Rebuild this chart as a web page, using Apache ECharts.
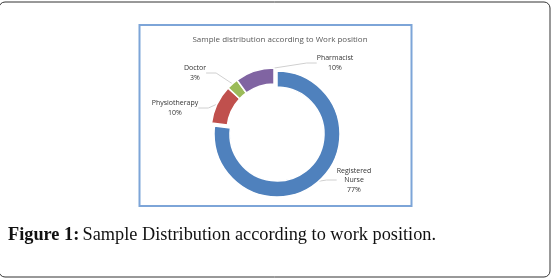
<!DOCTYPE html>
<html>
<head>
<meta charset="utf-8">
<script src="https://cdn.jsdelivr.net/npm/echarts@6/dist/echarts.min.js"></script>
<style>
html, body { margin: 0; padding: 0; background: #fff; }
#main { width: 552px; height: 279px; }
</style>
</head>
<body>
<div id="main"></div>
<script>
var categories = ['Registered\nNurse', 'Physiotherapy', 'Doctor', 'Pharmacist'];
var values = [77, 10, 3, 10];
var colors = ['#4f81bd', '#c0504d', '#9bbb59', '#8064a2'];
// which slices are pulled out of the ring
var exploded = [false, true, true, true];
// label anchor points (px), one per category
var labelPos = [[354, 180], [175, 108], [195, 73], [335, 63]];

var chart = echarts.init(document.getElementById('main'));

// one ring for the normal slice, one slightly shifted for the pulled-out ones
function ringData(wantExploded) {
    return categories.map(function (name, i) {
        var on = exploded[i] === wantExploded;
        return {
            name: name,
            value: values[i],
            itemStyle: { color: on ? colors[i] : 'rgba(0,0,0,0)', borderWidth: on ? 1.5 : 0 },
            label: { show: on },
            labelLine: { show: on }
        };
    });
}

function ring(center, data) {
    return {
        type: 'pie',
        center: center,
        radius: [47, 63],
        startAngle: 90,
        clockwise: true,
        avoidLabelOverlap: false,
        silent: true,
        itemStyle: { borderColor: '#fff' },
        label: {
            formatter: '{b}\n{d}%',
            fontSize: 7,
            lineHeight: 9.5,
            color: '#333',
            fontFamily: 'Open Sans'
        },
        labelLine: {
            length: 10,
            length2: 10,
            lineStyle: { color: '#d0d0d0', width: 1 }
        },
        labelLayout: function (p) {
            var pos = labelPos[p.dataIndex];
            return { x: pos[0], y: pos[1], align: 'center', verticalAlign: 'middle' };
        },
        emphasis: { disabled: true },
        data: data
    };
}

chart.setOption({
    animation: false,
    title: {
        text: 'Sample distribution according to Work position',
        left: 275,
        top: 31,
        textAlign: 'center',
        textStyle: { fontSize: 8, fontWeight: 'normal', color: '#595959', fontFamily: 'Open Sans' }
    },
    graphic: [{
        type: 'rect',
        shape: { x: -1, y: 2, width: 551, height: 275, r: 6 },
        style: { fill: 'none', stroke: '#333', lineWidth: 1 },
        z: -10
    }, {
        type: 'rect',
        shape: { x: 139.5, y: 25, width: 272, height: 181 },
        style: { fill: 'none', stroke: '#7da5d8', lineWidth: 2 },
        z: -10
    }, {
        type: 'text',
        left: 8,
        top: 226,
        style: {
            text: '{b|Figure 1:} {n|Sample Distribution according to work position.}',
            rich: {
                b: { fontFamily: 'Liberation Serif', fontSize: 18.3, fontWeight: 'bold', fill: '#111' },
                n: { fontFamily: 'Liberation Serif', fontSize: 18.3, fill: '#111' }
            }
        }
    }],
    series: [
        ring([277, 134], ringData(false)),
        ring([274, 131], ringData(true))
    ]
});
</script>
</body>
</html>
